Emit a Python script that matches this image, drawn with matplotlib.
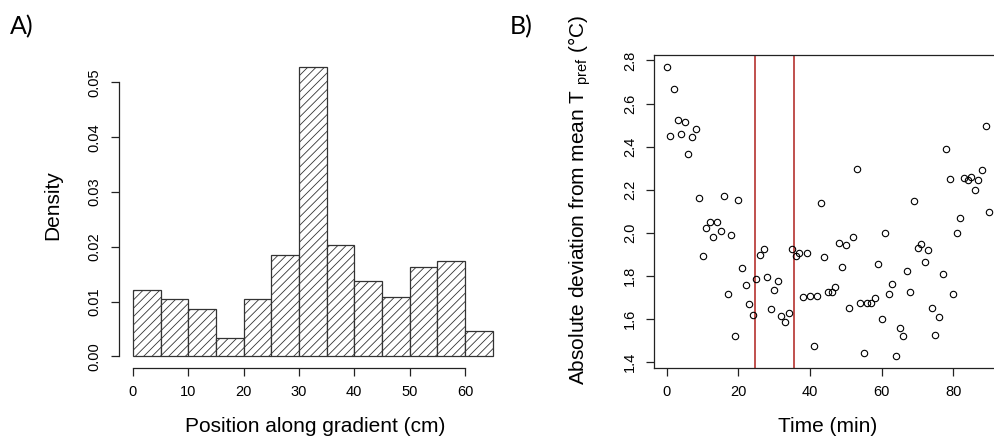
import matplotlib
matplotlib.use('Agg')
import matplotlib.pyplot as plt

# ---------------- data ----------------
bin_edges = [0, 5, 10, 15, 20, 25, 30, 35, 40, 45, 50, 55, 60, 65]
density = [0.01215, 0.01044, 0.00873, 0.00342, 0.01044, 0.01856, 0.05281,
           0.02033, 0.01386, 0.01093, 0.01624, 0.01740, 0.00458]
hist_xticks = [0, 10, 20, 30, 40, 50, 60]
hist_yticks = [0.00, 0.01, 0.02, 0.03, 0.04, 0.05]
hist_yticklabels = ["0.00", "0.01", "0.02", "0.03", "0.04", "0.05"]

time_min = list(range(91))
deviation = [2.771, 2.449, 2.666, 2.523, 2.458, 2.514, 2.366, 2.445, 2.484, 2.161,
             1.891, 2.022, 2.049, 1.983, 2.049, 2.010, 2.170, 1.717, 1.988, 1.520,
             2.151, 1.839, 1.756, 1.669, 1.621, 1.787, 1.899, 1.926, 1.795, 1.647,
             1.735, 1.778, 1.616, 1.587, 1.626, 1.926, 1.891, 1.905, 1.703, 1.905,
             1.708, 1.473, 1.707, 2.139, 1.887, 1.725, 1.725, 1.747, 1.954, 1.843,
             1.945, 1.652, 1.983, 2.297, 1.674, 1.442, 1.674, 1.674, 1.696, 1.857,
             1.599, 2.001, 1.717, 1.764, 1.427, 1.560, 1.520, 1.825, 1.725, 2.148,
             1.931, 1.949, 1.865, 1.921, 1.652, 1.525, 1.609, 1.809, 2.388, 2.248,
             1.717, 2.001, 2.071, 2.253, 2.243, 2.260, 2.201, 2.245, 2.291, 2.497,
             2.097]
window_lines = [24.5, 35.5]
scatter_xticks = [0, 20, 40, 60, 80]
scatter_yticks = [1.4, 1.6, 1.8, 2.0, 2.2, 2.4, 2.6, 2.8]
scatter_yticklabels = ["1.4", "1.6", "1.8", "2.0", "2.2", "2.4", "2.6", "2.8"]

# ---------------- style ----------------
plt.rcParams['font.family'] = ['Liberation Sans', 'DejaVu Sans']
plt.rcParams['mathtext.fontset'] = 'custom'
plt.rcParams['mathtext.rm'] = 'Liberation Sans'
plt.rcParams['hatch.linewidth'] = 0.6
plt.rcParams['hatch.color'] = '#333333'

W, H = 994, 442
fig = plt.figure(figsize=(W / 100, H / 100), dpi=100)


def rect(l, t, r, b):
    return [l / W, 1 - b / H, (r - l) / W, (b - t) / H]


def px(x, y):
    return x / W, 1 - y / H


axc = '#222222'
tick_fs = 10.5
label_fs = 15

# ---------------- panel A ----------------
ax1 = fig.add_axes(rect(118.5, 55.5, 507, 368))
lefts = bin_edges[:-1]
widths = [b - a for a, b in zip(bin_edges[:-1], bin_edges[1:])]
ax1.bar(lefts, density, width=widths, align='edge', facecolor='white',
        edgecolor='#333333', hatch='////', linewidth=0.9)
ax1.set_xlim(-2.6, 67.6)
ax1.set_ylim(-0.0021, 0.0549)
for s in ['top', 'right']:
    ax1.spines[s].set_visible(False)
ax1.spines['left'].set_bounds(0, 0.05)
ax1.spines['bottom'].set_bounds(0, 60)
for s in ['left', 'bottom']:
    ax1.spines[s].set_color(axc)
    ax1.spines[s].set_linewidth(0.9)
ax1.set_xticks(hist_xticks)
ax1.set_xticklabels([str(v) for v in hist_xticks])
ax1.set_yticks(hist_yticks)
ax1.set_yticklabels(hist_yticklabels, rotation=90, va='center')
ax1.tick_params(direction='out', length=6, width=0.9, colors=axc,
                labelsize=tick_fs, labelcolor='black', pad=6)

fig.text(*px(53, 205), "Density", rotation=90, ha='center', va='center',
         fontsize=label_fs)
fig.text(*px(315, 427), "Position along gradient (cm)", ha='center',
         va='center', fontsize=label_fs)
fig.text(*px(10, 27), "A)", ha='left', va='center', fontsize=18,
         family=['Lato', 'DejaVu Sans'])

# ---------------- panel B ----------------
ax2 = fig.add_axes(rect(654, 55, 1002, 368))
for xv in window_lines:
    ax2.axvline(xv, color='#c0504d', linewidth=1.4, zorder=1)
ax2.plot(time_min, deviation, linestyle='none', marker='o', markersize=4.6,
         markerfacecolor='none', markeredgecolor='black', markeredgewidth=0.8,
         zorder=3)
ax2.set_xlim(-3.6, 93.6)
ax2.set_ylim(1.373, 2.825)
for s in ax2.spines.values():
    s.set_color(axc)
    s.set_linewidth(0.9)
ax2.set_xticks(scatter_xticks)
ax2.set_xticklabels([str(v) for v in scatter_xticks])
ax2.set_yticks(scatter_yticks)
ax2.set_yticklabels(scatter_yticklabels, rotation=90, va='center')
ax2.tick_params(direction='out', length=6, width=0.9, colors=axc,
                labelsize=tick_fs, labelcolor='black', pad=6)

fig.text(*px(580, 200),
         r"Absolute deviation from mean T $_{\mathregular{pref}}$ (°C)",
         rotation=90, ha='center', va='center', fontsize=label_fs)
fig.text(*px(828, 427), "Time (min)", ha='center', va='center',
         fontsize=label_fs)
fig.text(*px(510, 27), "B)", ha='left', va='center', fontsize=18,
         family=['Lato', 'DejaVu Sans'])

fig.savefig('out.png', dpi=100)
